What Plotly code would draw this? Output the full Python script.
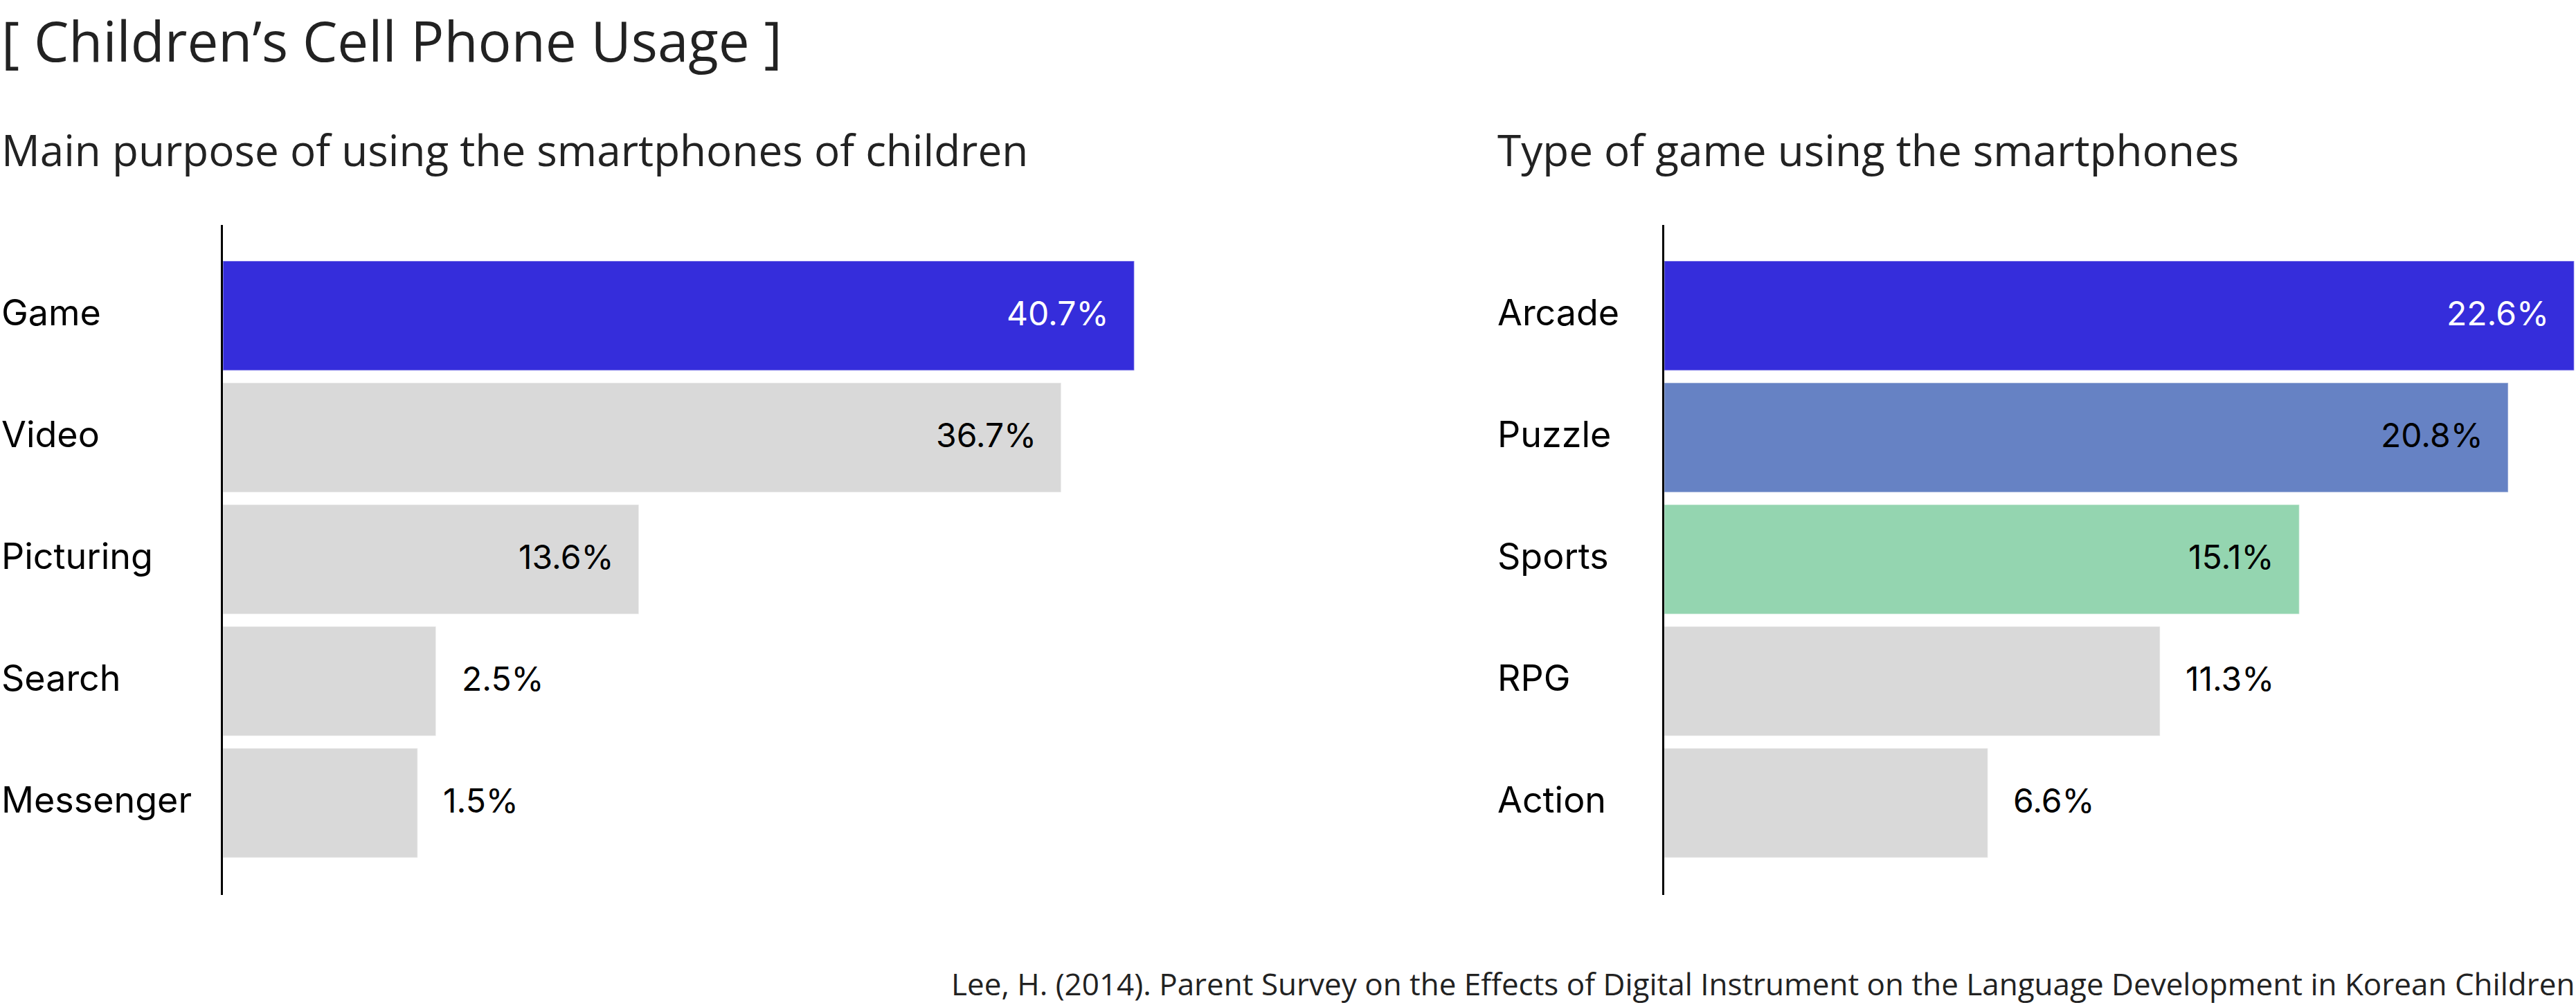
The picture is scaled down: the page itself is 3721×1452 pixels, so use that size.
import plotly.graph_objects as go

# ---- data ----
purpose_cats = ["Game", "Video", "Picturing", "Search", "Messenger"]
purpose_vals = [40.7, 36.7, 13.6, 2.5, 1.5]
purpose_colors = ["#352ddb", "#d9d9d9", "#d9d9d9", "#d9d9d9", "#d9d9d9"]
purpose_textcolors = ["#ffffff", "#000000", "#000000", "#000000", "#000000"]

game_cats = ["Arcade", "Puzzle", "Sports", "RPG", "Action"]
game_vals = [22.6, 20.8, 15.1, 11.3, 6.6]
game_colors = ["#352ddb", "#6682c4", "#94d5b0", "#d9d9d9", "#d9d9d9"]
game_textcolors = ["#ffffff", "#000000", "#000000", "#000000", "#000000"]

title_text = "[ Children’s Cell Phone Usage ]"
left_subtitle = "Main purpose of using the smartphones of children"
right_subtitle = "Type of game using the smartphones"
source_text = ("Lee, H. (2014). Parent Survey on the Effects of Digital Instrument "
               "on the Language Development in Korean Children")

# ---- style ----
W, H = 3721, 1452
HEAD_FONT = "Open Sans"
LABEL_FONT = "Inter"
left_floor = 9.15     # bars start a little before zero on the drawn scale
right_floor = 2.23
n_inside = 3          # top bars carry their label inside

fig = go.Figure()


def add_panel(cats, vals, colors, textcolors, floor, xa, ya, label_x):
    fig.add_trace(go.Bar(
        y=cats, x=[v + floor for v in vals], base=[-floor] * len(vals),
        orientation="h", width=0.9,
        marker=dict(color=colors, line=dict(color="rgba(255,255,255,0.45)", width=1.5)),
        xaxis=xa, yaxis=ya, showlegend=False, hoverinfo="skip",
    ))
    order = sorted(range(len(vals)), key=lambda i: -vals[i])
    rank = {i: r for r, i in enumerate(order)}
    for i, (c, v) in enumerate(zip(cats, vals)):
        inside = rank[i] < n_inside
        fig.add_annotation(
            x=v, y=c, xref=xa, yref=ya, text=f"{v}%", showarrow=False,
            xanchor="right" if inside else "left", xshift=-34 if inside else 35,
            yanchor="middle", yshift=4,
            font=dict(family=LABEL_FONT, size=48, color=textcolors[i] if inside else "#000000"),
        )
        fig.add_annotation(
            x=label_x, y=c, xref="paper", yref=ya, text=c, showarrow=False,
            xanchor="left", yanchor="middle", yshift=5,
            font=dict(family=LABEL_FONT, size=52, color="#000000"),
        )


add_panel(purpose_cats, purpose_vals, purpose_colors, purpose_textcolors,
          left_floor, "x", "y", 0 / W)
add_panel(game_cats, game_vals, game_colors, game_textcolors,
          right_floor, "x2", "y2", 2161 / W)

ydom = [1 - 1293 / H, 1 - 325 / H]
yax = dict(domain=ydom, range=[4.755, -0.745], showline=True, linecolor="#000000",
           linewidth=3, showticklabels=False, ticks="", showgrid=False, zeroline=False,
           fixedrange=True)
fig.update_layout(
    width=W, height=H, margin=dict(l=0, r=0, t=0, b=0),
    paper_bgcolor="#ffffff", plot_bgcolor="#ffffff",
    xaxis=dict(domain=[322 / W, 1752 / W], range=[-left_floor, 45], visible=False,
               fixedrange=True),
    xaxis2=dict(domain=[2404 / W, 1.0], range=[-right_floor, 22.65], visible=False,
                fixedrange=True),
    yaxis={**yax, "anchor": "x"},
    yaxis2={**yax, "anchor": "x2"},
    bargap=0.1,
)

fig.add_annotation(x=0, y=1 - 57 / H, xref="paper", yref="paper", text=title_text,
                   showarrow=False, xanchor="left", yanchor="middle",
                   font=dict(family=HEAD_FONT, size=80, color="#222222"))
fig.add_annotation(x=0, y=1 - 216 / H, xref="paper", yref="paper", text=left_subtitle,
                   showarrow=False, xanchor="left", yanchor="middle",
                   font=dict(family=HEAD_FONT, size=62, color="#222222"))
fig.add_annotation(x=2161 / W, y=1 - 216 / H, xref="paper", yref="paper", text=right_subtitle,
                   showarrow=False, xanchor="left", yanchor="middle",
                   font=dict(family=HEAD_FONT, size=62, color="#222222"))
fig.add_annotation(x=1, y=1 - 1421 / H, xref="paper", yref="paper", text=source_text,
                   showarrow=False, xanchor="right", yanchor="middle",
                   font=dict(family=HEAD_FONT, size=44, color="#222222"))

fig.write_html("out.html", config={"displayModeBar": False},
               post_script="document.body.style.margin='0px';")
